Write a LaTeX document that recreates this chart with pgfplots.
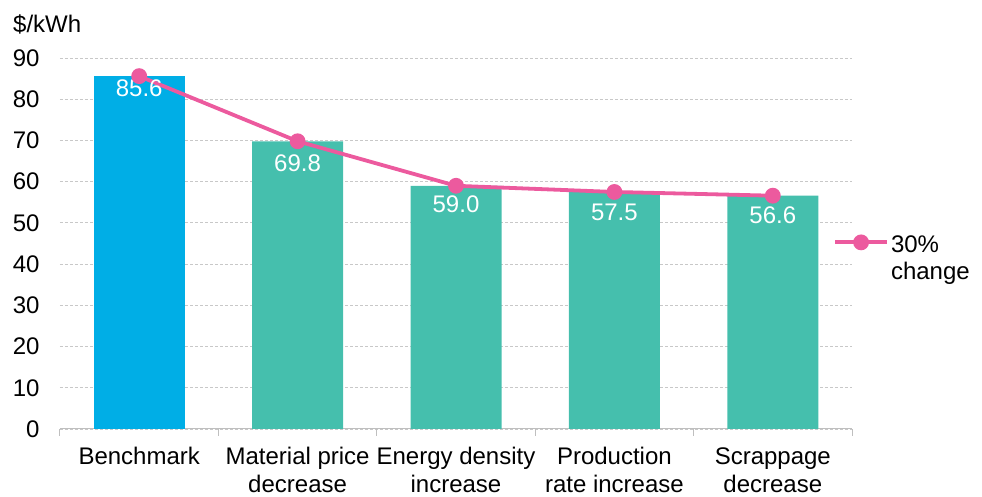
\documentclass[border=0pt]{standalone}
\usepackage{fontspec}
\setmainfont{Liberation Sans}
\usepackage{pgfplots}
\pgfplotsset{compat=1.18}
\definecolor{benchblue}{HTML}{00AEE6}
\definecolor{barteal}{HTML}{45BFAD}
\definecolor{linepink}{HTML}{EC5A9E}
\definecolor{gridgray}{HTML}{C8C8C8}
\definecolor{axisgray}{HTML}{BFBFBF}
\begin{document}
\begin{tikzpicture}[font=\fontsize{24}{28}\selectfont]
\path[use as bounding box] (-60pt,-68pt) rectangle (922pt,429pt);
\begin{axis}[
  scale only axis, width=792pt, height=371pt,
  xmin=-0.5, xmax=4.5, ymin=0, ymax=90,
  clip=false,
  axis x line*=bottom, axis y line*=left,
  y axis line style={draw=none},
  x axis line style={draw=axisgray, line width=1pt},
  xtick={0,1,2,3,4},
  xticklabels={Benchmark, Material price\\decrease, Energy density\\increase,
    Production\\rate increase, Scrappage\\decrease},
  xtick style={draw=none},
  xticklabel style={align=center, anchor=north, yshift=-15pt},
  extra x ticks={-0.5,0.5,1.5,2.5,3.5,4.5},
  extra x tick labels={},
  extra x tick style={grid=none, xtick style={draw=axisgray, line width=1pt},
    major tick length=7pt, tick align=outside},
  ytick={0,10,...,90},
  ytick style={draw=none},
  yticklabel style={/pgf/number format/assume math mode=true, xshift=-17pt},
  ymajorgrids,
  grid style={gridgray, line width=0.8pt, dash pattern=on 3pt off 2pt},
  legend style={draw=none, fill=none, at={(axis cs:4.38,48.0)}, anchor=north west,
    cells={anchor=base west}, inner sep=0pt, row sep=0pt},
  legend cell align=left,
  legend image code/.code={%
    \draw[mark repeat=2, mark phase=2, #1] plot coordinates {(0pt,1.5pt) (26pt,1.5pt) (52pt,1.5pt)};},
]
\addplot[ybar, bar width=91pt, bar shift=0pt, fill=benchblue, draw=none, forget plot]
  coordinates {(0,85.6)};
\addplot[ybar, bar width=91pt, bar shift=0pt, fill=barteal, draw=none, forget plot]
  coordinates {(1,69.8) (2,59.0) (3,57.5) (4,56.6)};
\addplot[draw=none, mark=none, forget plot, nodes near coords, point meta=explicit symbolic,
  nodes near coords style={white, anchor=center}]
  coordinates {(0,82.7)[85.6] (1,64.5)[69.8] (2,54.6)[59.0] (3,52.6)[57.5] (4,51.9)[56.6]};
\addplot[linepink, line width=3.8pt, mark=*, mark size=6pt, mark options={fill=linepink, draw=linepink}]
  coordinates {(0,85.6) (1,69.8) (2,59.0) (3,57.5) (4,56.6)};
\addlegendentry{\begin{tabular}[t]{@{}l@{}}30\%\\[-1pt]change\end{tabular}}
\end{axis}
\node[anchor=west, inner sep=0pt] at (-47pt,405pt) {\$/kWh};
\end{tikzpicture}
\end{document}
